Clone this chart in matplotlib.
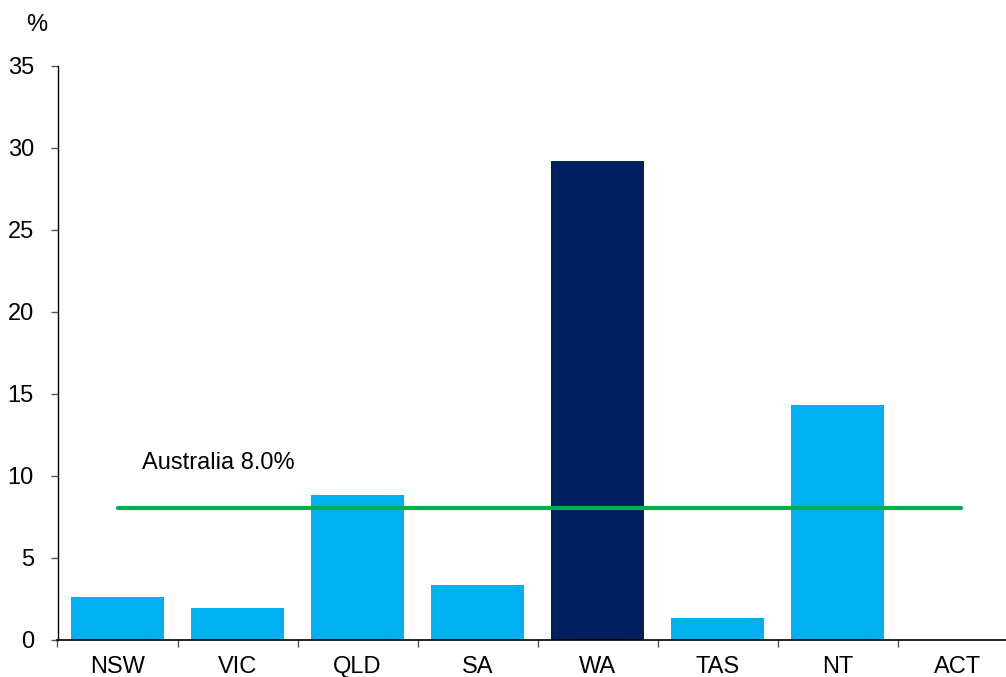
import numpy as np
from matplotlib import pyplot as plt

states = ["NSW", "VIC", "QLD", "SA", "WA", "TAS", "NT", "ACT"]
values = [2.6, 1.9, 8.8, 3.3, 29.2, 1.3, 14.3, 0.0]
australia = 8.0
highlight = "WA"

plt.rcParams["font.family"] = ["Liberation Sans", "DejaVu Sans"]

fig = plt.figure(figsize=(10.06, 6.77), dpi=100)
# axes runs a little past the right edge of the picture, as in the original
ax = fig.add_axes([57.5 / 1006, 1 - 639.5 / 677, 960 / 1006, 573.5 / 677])

x = np.arange(len(states))
colors = ["#002060" if s == highlight else "#00B0F0" for s in states]
ax.bar(x, values, width=0.775, color=colors, zorder=2)

ax.plot([x[0], x[-1] + 0.03], [australia, australia], color="#00B050", lw=3,
        solid_capstyle="round", zorder=3)
ax.text(0.2, australia + 2.8, f"Australia {australia:.1f}%", fontsize=17,
        va="center", ha="left")

ax.set_xlim(-0.5, len(states) - 0.5)
ax.set_ylim(0, 35)
ax.set_yticks(range(0, 36, 5))
ax.set_xticks(x)
ax.set_xticklabels(states, fontsize=17)
ax.set_xticks(np.arange(-0.5, len(states)), minor=True)
ax.tick_params(axis="x", which="major", length=0, pad=12)
ax.tick_params(axis="x", which="minor", length=5, width=1, color="#555555")
ax.tick_params(axis="y", labelsize=17, length=5, width=1, color="#555555", pad=12)

for side in ["top", "right"]:
    ax.spines[side].set_visible(False)
ax.spines["left"].set_linewidth(1)
ax.spines["bottom"].set_linewidth(1.2)

fig.text(37 / 1006, 1 - 25 / 677, "%", fontsize=17, ha="center", va="center")

fig.savefig("out.png", dpi=100)
